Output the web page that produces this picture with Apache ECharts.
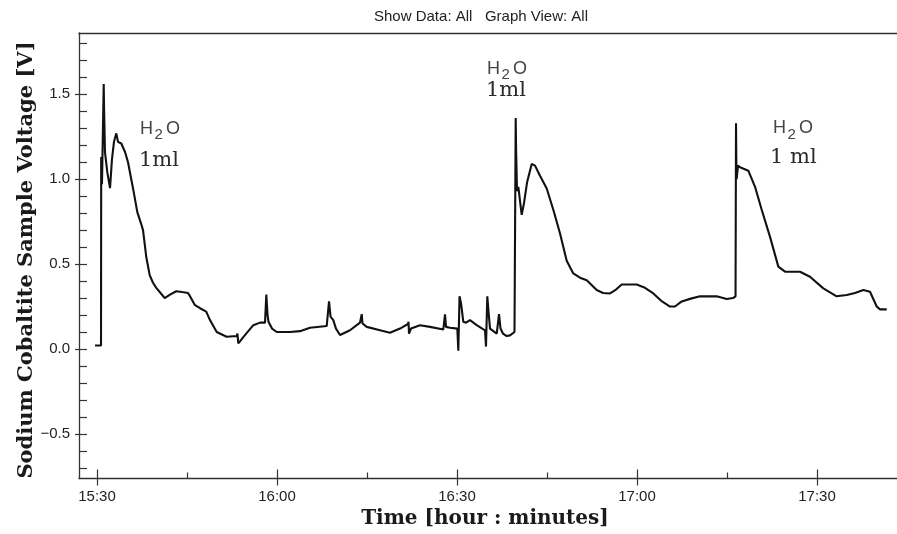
<!DOCTYPE html>
<html>
<head>
<meta charset="utf-8">
<script src="https://cdn.jsdelivr.net/npm/echarts@6/dist/echarts.min.js"></script>
<style>
html,body{margin:0;padding:0;background:#fff;}
#chart{width:897px;height:534px;}
</style>
</head>
<body>
<div id="chart"></div>
<script>
// minutes after 15:30
const timeMin = [
 -0.33, 0.67, 0.70, 0.83, 1.12, 1.17, 1.25, 1.33, 1.72, 2.17, 2.5, 2.83, 3.22, 3.5, 4.05, 4.67, 5.17, 6.0, 6.72, 7.33,
 7.67, 8.22, 8.78, 9.33, 9.88, 11.28, 12.17, 13.22, 14.17, 15.17, 15.5, 16.28, 17.17, 18.2, 18.83, 19.95, 21.6, 23.28, 23.4, 23.55,
 23.83, 24.38, 26.05, 27.17, 28.0, 28.22, 28.42, 28.58, 29.17, 29.95, 32.17, 33.83, 35.5, 38.28, 38.67, 38.92, 39.38, 39.83, 40.5, 42.17,
 43.83, 44.12, 44.25, 44.95, 47.17, 48.83, 50.5, 51.83, 51.92, 52.0, 52.33, 53.83, 55.5, 57.72, 58.0, 58.17, 58.83, 60.05, 60.22, 60.42,
 60.67, 61.05, 61.5, 62.17, 63.28, 64.67, 64.83, 65.05, 65.25, 65.5, 66.62, 67.0, 67.25, 67.67, 68.28, 68.83, 69.58, 69.78, 69.85, 70.0,
 70.22, 70.78, 71.17, 71.67, 72.45, 73.0, 73.83, 74.95, 76.05, 77.17, 78.28, 79.38, 80.5, 81.62, 83.28, 84.33, 85.5, 86.5, 87.45, 89.95,
 91.33, 92.72, 94.17, 95.5, 96.33, 97.45, 98.83, 100.5, 103.28, 104.95, 106.0, 106.42, 106.5, 106.55, 106.6, 106.83, 107.17, 108.55, 109.67, 110.78,
 112.17, 113.55, 114.67, 117.17, 118.83, 121.05, 123.28, 124.95, 126.33, 127.72, 128.83, 129.95, 130.5, 131.62
];
const voltage = [
 0.02, 0.02, 1.13, 0.97, 1.56, 1.43, 1.42, 1.16, 1.04, 0.947, 1.12, 1.22, 1.27, 1.22, 1.21, 1.16, 1.10, 0.947, 0.806, 0.74,
 0.70, 0.54, 0.435, 0.39, 0.36, 0.30, 0.32, 0.34, 0.335, 0.33, 0.31, 0.26, 0.24, 0.22, 0.17, 0.10, 0.072, 0.076, 0.09, 0.033,
 0.045, 0.07, 0.14, 0.155, 0.155, 0.32, 0.20, 0.16, 0.12, 0.10, 0.10, 0.105, 0.125, 0.135, 0.28, 0.19, 0.17, 0.12, 0.082, 0.11,
 0.155, 0.205, 0.15, 0.13, 0.11, 0.095, 0.12, 0.147, 0.16, 0.09, 0.12, 0.14, 0.13, 0.115, 0.204, 0.13, 0.125, 0.12, -0.01, 0.31,
 0.27, 0.16, 0.155, 0.17, 0.14, 0.11, 0.014, 0.31, 0.22, 0.12, 0.09, 0.205, 0.12, 0.09, 0.076, 0.08, 0.10, 1.36, 1.17, 0.93,
 0.955, 0.79, 0.86, 0.98, 1.09, 1.08, 1.02, 0.945, 0.82, 0.68, 0.52, 0.445, 0.42, 0.405, 0.347, 0.33, 0.327, 0.35, 0.38, 0.38,
 0.36, 0.327, 0.28, 0.25, 0.25, 0.28, 0.295, 0.31, 0.31, 0.294, 0.30, 0.31, 1.33, 1.11, 1.00, 1.08, 1.07, 1.05, 0.955, 0.82,
 0.66, 0.485, 0.455, 0.455, 0.425, 0.357, 0.31, 0.318, 0.33, 0.347, 0.337, 0.25, 0.233, 0.233
];
const xTickValues = [0, 30, 60, 90, 120];
const xTickLabels = ['15:30', '16:00', '16:30', '17:00', '17:30'];
const xMinorValues = [15, 45, 75, 105];
const yTickValues = [-0.5, 0, 0.5, 1.0, 1.5];
const yTickLabels = ['\u22120.5', '0.0', '0.5', '1.0', '1.5'];
const yMinorValues = [-0.7,-0.6,-0.5,-0.4,-0.3,-0.2,-0.1,0,0.1,0.2,0.3,0.4,0.5,0.6,0.7,0.8,0.9,1.0,1.1,1.2,1.3,1.4,1.5,1.6,1.7,1.8];
const titleText = 'Show Data: All   Graph View: All';
const xName = 'Time [hour : minutes]';
const yName = 'Sodium Cobaltite Sample Voltage [V]';

const X_MIN = -3, X_MAX = 133.33, Y_MIN = -0.763, Y_MAX = 1.861;
const AX = '#333';
const sans = 'Liberation Sans';

const chart = echarts.init(document.getElementById('chart'), null, {renderer: 'canvas'});
const data = timeMin.map((t, i) => [t, voltage[i]]);

function baseX(extra) {
  return Object.assign({
    type: 'value', min: X_MIN, max: X_MAX, position: 'bottom',
    splitLine: {show: false}, axisLabel: {show: false}, axisTick: {show: false},
    axisLine: {show: false, onZero: false}
  }, extra);
}
function baseY(extra) {
  return Object.assign({
    type: 'value', min: Y_MIN, max: Y_MAX, position: 'left',
    splitLine: {show: false}, axisLabel: {show: false}, axisTick: {show: false},
    axisLine: {show: false, onZero: false}
  }, extra);
}

const option = {
  animation: false,
  backgroundColor: '#fff',
  grid: {left: 79, top: 33, right: 0, bottom: 55.5, containLabel: false},
  xAxis: [
    baseX({
      axisLine: {show: true, onZero: false, lineStyle: {color: AX, width: 1.3}},
      axisTick: {show: true, inside: true, length: 9, customValues: xTickValues, lineStyle: {color: AX, width: 1.2}},
      axisLabel: {show: true, customValues: xTickValues, margin: 11, color: '#222', fontFamily: sans, fontSize: 15,
        formatter: v => xTickLabels[xTickValues.indexOf(Math.round(v))] || ''}
    }),
    baseX({axisTick: {show: true, inside: false, length: 7, customValues: xTickValues, lineStyle: {color: AX, width: 1.2}}}),
    baseX({axisTick: {show: true, inside: true, length: 6, customValues: xMinorValues, lineStyle: {color: AX, width: 1.2}}}),
    baseX({position: 'top', axisLine: {show: true, onZero: false, lineStyle: {color: AX, width: 1.3}}})
  ],
  yAxis: [
    baseY({
      axisLine: {show: true, onZero: false, lineStyle: {color: AX, width: 1.3}},
      axisTick: {show: true, inside: false, length: 4, customValues: yTickValues, lineStyle: {color: AX, width: 1.2}},
      axisLabel: {show: true, customValues: yTickValues, margin: 9, color: '#222', fontFamily: sans, fontSize: 15,
        formatter: v => yTickLabels[yTickValues.findIndex(t => Math.abs(t - v) < 1e-6)] || ''}
    }),
    baseY({axisTick: {show: true, inside: true, length: 8, customValues: yMinorValues, lineStyle: {color: AX, width: 1.2}}})
  ],
  series: [{
    type: 'line', data: data, xAxisIndex: 0, yAxisIndex: 0,
    showSymbol: false, symbol: 'none', smooth: false,
    lineStyle: {color: '#111', width: 2.1}
  }],
  graphic: [
    {type: 'text', x: 481, y: 17, style: {text: titleText, align: 'center', verticalAlign: 'middle', font: '15px "Liberation Sans"', fill: '#222'}},
    {type: 'text', x: 485, y: 519, style: {text: xName, align: 'center', verticalAlign: 'middle', font: 'bold 20px "DejaVu Serif"', fill: '#1a1a1a'}},
    {type: 'text', x: 27, y: 260, rotation: Math.PI / 2, style: {text: yName, align: 'center', verticalAlign: 'middle', font: 'bold 21px "DejaVu Serif"', fill: '#1a1a1a'}},
    // annotation 1
    {type: 'text', x: 140, y: 129, style: {text: 'H', verticalAlign: 'middle', font: '18px "Liberation Sans"', fill: '#444'}},
    {type: 'text', x: 154.5, y: 135, style: {text: '2', verticalAlign: 'middle', font: '15px "Liberation Sans"', fill: '#444'}},
    {type: 'text', x: 166, y: 129, style: {text: 'O', verticalAlign: 'middle', font: '18px "Liberation Sans"', fill: '#444'}},
    {type: 'text', x: 139, y: 161, style: {text: '1ml', verticalAlign: 'middle', font: '21px "DejaVu Serif"', fill: '#2b2b2b'}},
    // annotation 2
    {type: 'text', x: 487, y: 69, style: {text: 'H', verticalAlign: 'middle', font: '18px "Liberation Sans"', fill: '#444'}},
    {type: 'text', x: 501.5, y: 75, style: {text: '2', verticalAlign: 'middle', font: '15px "Liberation Sans"', fill: '#444'}},
    {type: 'text', x: 513, y: 69, style: {text: 'O', verticalAlign: 'middle', font: '18px "Liberation Sans"', fill: '#444'}},
    {type: 'text', x: 486, y: 91, style: {text: '1ml', verticalAlign: 'middle', font: '21px "DejaVu Serif"', fill: '#2b2b2b'}},
    // annotation 3
    {type: 'text', x: 773, y: 128.5, style: {text: 'H', verticalAlign: 'middle', font: '18px "Liberation Sans"', fill: '#444'}},
    {type: 'text', x: 787.5, y: 134.5, style: {text: '2', verticalAlign: 'middle', font: '15px "Liberation Sans"', fill: '#444'}},
    {type: 'text', x: 799, y: 128.5, style: {text: 'O', verticalAlign: 'middle', font: '18px "Liberation Sans"', fill: '#444'}},
    {type: 'text', x: 770, y: 157.5, style: {text: '1 ml', verticalAlign: 'middle', font: '21px "DejaVu Serif"', fill: '#2b2b2b'}}
  ]
};
chart.setOption(option);
</script>
</body>
</html>
